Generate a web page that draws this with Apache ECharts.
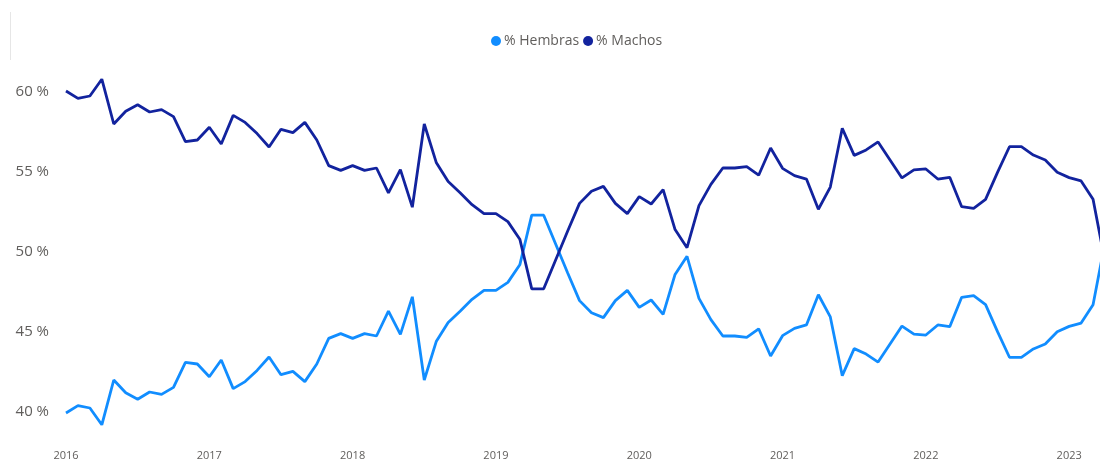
<!DOCTYPE html>
<html lang="es">
<head>
    <meta charset="UTF-8">
    <title>% Hembras / % Machos</title>
    <script src="https://cdn.jsdelivr.net/npm/echarts@6/dist/echarts.min.js"></script>
</head>
<style>
    html, body { margin: 0; padding: 0; background: #fff; overflow: hidden; }
    #chart { width: 1110px; height: 459px; }
</style>
<body>
<div id="chart"></div>
<script>
    // meses desde 2016-01 hasta 2023-04
    var years = [2016, 2017, 2018, 2019, 2020, 2021, 2022, 2023];
    var lastYearMonths = 4;

    var hembras = [
        39.94, 40.4, 40.25, 39.2, 42.0, 41.2, 40.8, 41.25, 41.1, 41.54, 43.1, 43.0,
        42.2, 43.25, 41.46, 41.9, 42.6, 43.44, 42.33, 42.54, 41.9, 43.0, 44.6, 44.9,
        44.6, 44.9, 44.75, 46.3, 44.85, 47.2, 42.0, 44.4, 45.6, 46.3, 47.04, 47.6,
        47.6, 48.1, 49.2, 52.3, 52.3, 50.5, 48.7, 46.96, 46.2, 45.9, 46.96, 47.6,
        46.54, 47.0, 46.1, 48.6, 49.73, 47.1, 45.77, 44.75, 44.75, 44.67, 45.2, 43.5,
        44.77, 45.23, 45.44, 47.33, 45.94, 42.27, 43.96, 43.62, 43.12, 44.25, 45.37, 44.87,
        44.81, 45.44, 45.33, 47.17, 47.27, 46.71, 45.02, 43.42, 43.42, 43.94, 44.25, 45.02,
        45.35, 45.56, 46.71, 50.6
    ];
    var machos = [
        60.06, 59.6, 59.75, 60.8, 58.0, 58.8, 59.2, 58.75, 58.9, 58.46, 56.9, 57.0,
        57.8, 56.75, 58.54, 58.1, 57.4, 56.56, 57.67, 57.46, 58.1, 57.0, 55.4, 55.1,
        55.4, 55.1, 55.25, 53.7, 55.15, 52.8, 58.0, 55.6, 54.4, 53.7, 52.96, 52.4,
        52.4, 51.9, 50.8, 47.7, 47.7, 49.5, 51.3, 53.04, 53.8, 54.1, 53.04, 52.4,
        53.46, 53.0, 53.9, 51.4, 50.27, 52.9, 54.23, 55.25, 55.25, 55.33, 54.8, 56.5,
        55.23, 54.77, 54.56, 52.67, 54.06, 57.73, 56.04, 56.38, 56.88, 55.75, 54.63, 55.13,
        55.19, 54.56, 54.67, 52.83, 52.73, 53.29, 54.98, 56.58, 56.58, 56.06, 55.75, 54.98,
        54.65, 54.44, 53.29, 49.4
    ];

    var months = [];
    years.forEach(function (y, i) {
        var n = i === years.length - 1 ? lastYearMonths : 12;
        for (var m = 1; m <= n; m++) {
            months.push(y + '-' + (m < 10 ? '0' + m : m));
        }
    });

    var gray = '#605E5C';

    var option = {
        animation: false,
        graphic: [{
            type: 'rect',
            shape: { x: 10, y: 12, width: 1, height: 48 },
            style: { fill: '#e6e6e6' }
        }],
        legend: {
            left: 486,
            top: 29,
            icon: 'circle',
            itemWidth: 10,
            itemHeight: 10,
            itemGap: 4,
            textStyle: { color: gray, fontSize: 14, fontFamily: 'Open Sans', padding: [0, 0, 0, -2] },
            data: ['% Hembras', '% Machos']
        },
        grid: {
            left: 66,
            right: 5,
            top: 92,
            bottom: 47,
            outerBoundsMode: 'none'
        },
        xAxis: {
            type: 'category',
            boundaryGap: false,
            data: months,
            axisLine: { show: false },
            axisTick: { show: false },
            axisLabel: {
                margin: 38,
                color: gray,
                fontSize: 11,
                fontFamily: 'Open Sans',
                interval: function (idx) { return idx % 12 === 0; },
                formatter: function (v) { return v.slice(0, 4); }
            },
            splitLine: { show: false }
        },
        yAxis: {
            type: 'value',
            min: 40,
            max: 60,
            interval: 5,
            axisLine: { show: false },
            axisTick: { show: false },
            splitLine: { show: false },
            axisLabel: {
                margin: 17,
                color: gray,
                fontSize: 15,
                fontFamily: 'Open Sans',
                formatter: function (v) { return v + ' %'; }
            }
        },
        series: [{
            name: '% Hembras',
            type: 'line',
            data: hembras,
            clip: false,
            showSymbol: false,
            symbol: 'none',
            color: '#118DFF',
            lineStyle: { width: 2.8, color: '#118DFF' }
        }, {
            name: '% Machos',
            type: 'line',
            data: machos,
            clip: false,
            showSymbol: false,
            symbol: 'none',
            color: '#12239E',
            lineStyle: { width: 2.8, color: '#12239E' }
        }]
    };

    var chart = echarts.init(document.getElementById('chart'));
    chart.setOption(option);
</script>
</body>
</html>
